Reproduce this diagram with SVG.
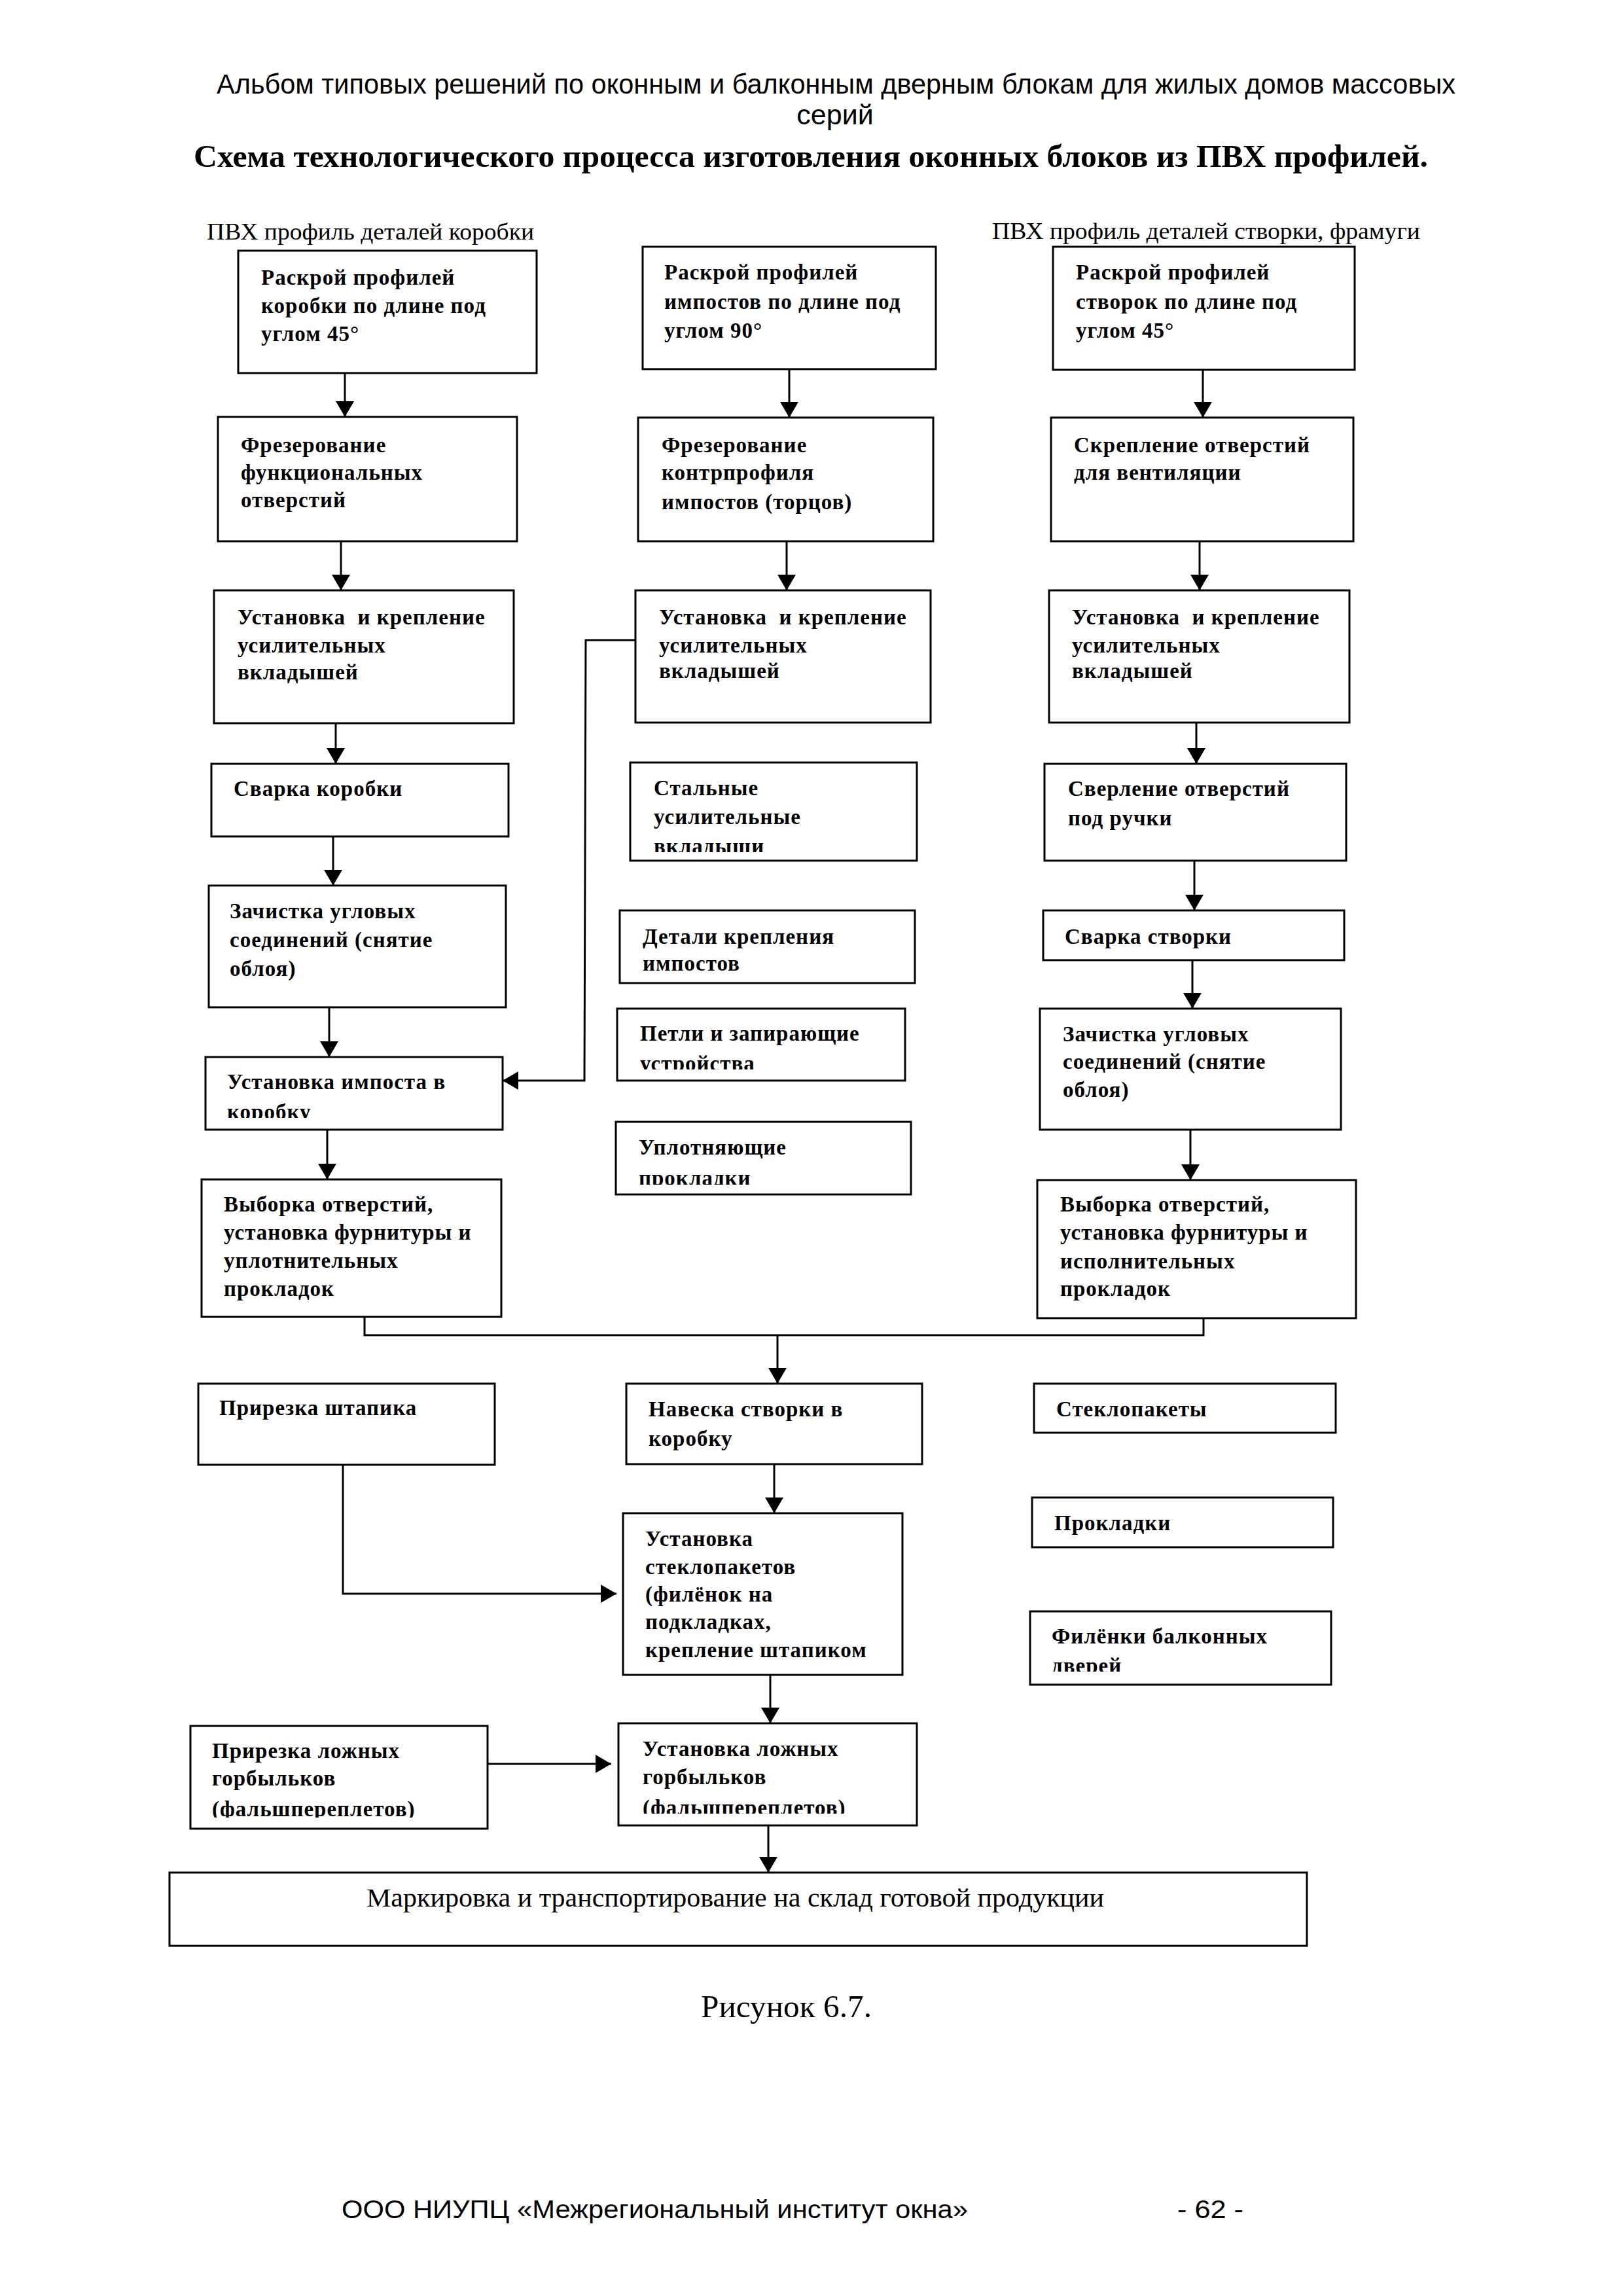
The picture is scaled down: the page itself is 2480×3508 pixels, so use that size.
<svg xmlns="http://www.w3.org/2000/svg" width="2480" height="3508" viewBox="0 0 2480 3508">
<style>
.box{fill:#fff;stroke:#000;stroke-width:3}
.t{font-family:"Liberation Serif","Times New Roman",serif;font-size:33px;font-weight:bold;letter-spacing:1px;fill:#000}
.hd{font-family:"Liberation Serif","Times New Roman",serif;font-size:35px;fill:#000}
.sans{font-family:"Liberation Sans",Arial,sans-serif;fill:#000}
.conn{fill:none;stroke:#000;stroke-width:3}
.arr{marker-end:url(#ah)}
</style>
<defs>
<marker id="ah" markerUnits="userSpaceOnUse" markerWidth="24" markerHeight="28" refX="24" refY="14" orient="auto" viewBox="0 0 24 28"><path d="M0,0 L24,14 L0,28 z" fill="#000"/></marker>
<clipPath id="cM4"><rect x="963" y="1165" width="438" height="137"/></clipPath>
<clipPath id="cL6"><rect x="314" y="1615" width="454" height="93"/></clipPath>
<clipPath id="cM6"><rect x="943" y="1541" width="440" height="93"/></clipPath>
<clipPath id="cM7"><rect x="941" y="1714" width="451" height="96"/></clipPath>
<clipPath id="cB6"><rect x="1574" y="2462" width="460" height="92"/></clipPath>
<clipPath id="cB7"><rect x="291" y="2637" width="454" height="140"/></clipPath>
<clipPath id="cB8"><rect x="945" y="2633" width="456" height="138"/></clipPath>
</defs>
<rect width="2480" height="3508" fill="#fff"/>

<g id="header">
<text class="sans" x="331" y="143" font-size="43" textLength="1893" lengthAdjust="spacingAndGlyphs">Альбом типовых решений по оконным и балконным дверным блокам для жилых домов массовых</text>
<text class="sans" x="1276" y="190" font-size="43" text-anchor="middle">серий</text>
<text x="296" y="255" font-family="'Liberation Serif','Times New Roman',serif" font-size="48" font-weight="bold" textLength="1886" lengthAdjust="spacingAndGlyphs">Схема технологического процесса изготовления оконных блоков из ПВХ профилей.</text>
<text class="hd" x="316" y="366" textLength="500" lengthAdjust="spacingAndGlyphs">ПВХ профиль деталей коробки</text>
<text class="hd" x="1516" y="365" textLength="654" lengthAdjust="spacingAndGlyphs">ПВХ профиль деталей створки, фрамуги</text>
</g>

<g id="connectors">
<line class="conn arr" x1="527" y1="570" x2="527" y2="637"/>
<line class="conn arr" x1="521" y1="827" x2="521" y2="902"/>
<line class="conn arr" x1="513" y1="1105" x2="513" y2="1167"/>
<line class="conn arr" x1="509" y1="1278" x2="509" y2="1353"/>
<line class="conn arr" x1="503" y1="1539" x2="503" y2="1615"/>
<line class="conn arr" x1="500" y1="1726" x2="500" y2="1802"/>
<line class="conn arr" x1="1206" y1="564" x2="1206" y2="638"/>
<line class="conn arr" x1="1202" y1="827" x2="1202" y2="902"/>
<path class="conn arr" d="M971,978 L895,978 L893,1651 L768,1651"/>
<line class="conn arr" x1="1838" y1="565" x2="1838" y2="638"/>
<line class="conn arr" x1="1833" y1="827" x2="1833" y2="902"/>
<line class="conn arr" x1="1828" y1="1104" x2="1828" y2="1167"/>
<line class="conn arr" x1="1825" y1="1315" x2="1825" y2="1391"/>
<line class="conn arr" x1="1822" y1="1467" x2="1822" y2="1541"/>
<line class="conn arr" x1="1819" y1="1726" x2="1819" y2="1803"/>
<path class="conn" d="M557,2012 L557,2040 L1839,2040 L1839,2014"/>
<line class="conn arr" x1="1188" y1="2040" x2="1188" y2="2114"/>
<line class="conn arr" x1="1183" y1="2237" x2="1183" y2="2312"/>
<path class="conn arr" d="M524,2238 L524,2435 L942,2435"/>
<line class="conn arr" x1="1177" y1="2559" x2="1177" y2="2633"/>
<line class="conn arr" x1="745" y1="2695" x2="934" y2="2695"/>
<line class="conn arr" x1="1174" y1="2789" x2="1174" y2="2861"/>
</g>

<g id="n-L1"><rect class="box" x="364" y="383" width="456" height="187"/>
<text class="t"><tspan x="399" y="435">Раскрой профилей</tspan><tspan x="399" y="478">коробки по длине под</tspan><tspan x="399" y="521">углом 45°</tspan></text></g>
<g id="n-M1"><rect class="box" x="982" y="377" width="448" height="187"/>
<text class="t"><tspan x="1015" y="427">Раскрой профилей</tspan><tspan x="1015" y="472">импостов по длине под</tspan><tspan x="1015" y="516">углом 90°</tspan></text></g>
<g id="n-R1"><rect class="box" x="1609" y="377" width="461" height="188"/>
<text class="t"><tspan x="1644" y="427">Раскрой профилей</tspan><tspan x="1644" y="472">створок по длине под</tspan><tspan x="1644" y="516">углом 45°</tspan></text></g>

<g id="n-L2"><rect class="box" x="333" y="637" width="457" height="190"/>
<text class="t"><tspan x="368" y="691">Фрезерование</tspan><tspan x="368" y="733">функциональных</tspan><tspan x="368" y="775">отверстий</tspan></text></g>
<g id="n-M2"><rect class="box" x="975" y="638" width="451" height="189"/>
<text class="t"><tspan x="1011" y="691">Фрезерование</tspan><tspan x="1011" y="733">контрпрофиля</tspan><tspan x="1011" y="778">импостов (торцов)</tspan></text></g>
<g id="n-R2"><rect class="box" x="1606" y="638" width="462" height="189"/>
<text class="t"><tspan x="1641" y="691">Скрепление отверстий</tspan><tspan x="1641" y="733">для вентиляции</tspan></text></g>

<g id="n-L3"><rect class="box" x="327" y="902" width="458" height="203"/>
<text class="t"><tspan x="363" y="954">Установка &#160;и крепление</tspan><tspan x="363" y="997">усилительных</tspan><tspan x="363" y="1038">вкладышей</tspan></text></g>
<g id="n-M3"><rect class="box" x="971" y="902" width="451" height="202"/>
<text class="t"><tspan x="1007" y="954">Установка &#160;и крепление</tspan><tspan x="1007" y="997">усилительных</tspan><tspan x="1007" y="1036">вкладышей</tspan></text></g>
<g id="n-R3"><rect class="box" x="1603" y="902" width="459" height="202"/>
<text class="t"><tspan x="1638" y="954">Установка &#160;и крепление</tspan><tspan x="1638" y="997">усилительных</tspan><tspan x="1638" y="1036">вкладышей</tspan></text></g>

<g id="n-L4"><rect class="box" x="323" y="1167" width="454" height="111"/>
<text class="t" x="357" y="1216">Сварка коробки</text></g>
<g id="n-M4"><rect class="box" x="963" y="1165" width="438" height="150"/>
<text class="t" clip-path="url(#cM4)"><tspan x="999" y="1215">Стальные</tspan><tspan x="999" y="1259">усилительные</tspan><tspan x="999" y="1304">вкладыши</tspan></text></g>
<g id="n-R4"><rect class="box" x="1596" y="1167" width="461" height="148"/>
<text class="t"><tspan x="1632" y="1216">Сверление отверстий</tspan><tspan x="1632" y="1261">под ручки</tspan></text></g>

<g id="n-L5"><rect class="box" x="319" y="1353" width="454" height="186"/>
<text class="t"><tspan x="351" y="1403">Зачистка угловых</tspan><tspan x="351" y="1447">соединений (снятие</tspan><tspan x="351" y="1491">облоя)</tspan></text></g>
<g id="n-M5"><rect class="box" x="947" y="1391" width="451" height="111"/>
<text class="t"><tspan x="982" y="1442">Детали крепления</tspan><tspan x="982" y="1483">импостов</tspan></text></g>
<g id="n-R5"><rect class="box" x="1594" y="1391" width="460" height="76"/>
<text class="t" x="1627" y="1442">Сварка створки</text></g>

<g id="n-L6"><rect class="box" x="314" y="1615" width="454" height="111"/>
<text class="t" clip-path="url(#cL6)"><tspan x="347" y="1664">Установка импоста в</tspan><tspan x="347" y="1710">коробку</tspan></text></g>
<g id="n-M6"><rect class="box" x="943" y="1541" width="440" height="110"/>
<text class="t" clip-path="url(#cM6)"><tspan x="978" y="1590">Петли и запирающие</tspan><tspan x="978" y="1636">устройства</tspan></text></g>
<g id="n-R6"><rect class="box" x="1589" y="1541" width="460" height="185"/>
<text class="t"><tspan x="1624" y="1591">Зачистка угловых</tspan><tspan x="1624" y="1633">соединений (снятие</tspan><tspan x="1624" y="1676">облоя)</tspan></text></g>

<g id="n-M7"><rect class="box" x="941" y="1714" width="451" height="111"/>
<text class="t" clip-path="url(#cM7)"><tspan x="976" y="1764">Уплотняющие</tspan><tspan x="976" y="1811">прокладки</tspan></text></g>
<g id="n-L7"><rect class="box" x="308" y="1802" width="458" height="210"/>
<text class="t"><tspan x="342" y="1851">Выборка отверстий,</tspan><tspan x="342" y="1894">установка фурнитуры и</tspan><tspan x="342" y="1937">уплотнительных</tspan><tspan x="342" y="1980">прокладок</tspan></text></g>
<g id="n-R7"><rect class="box" x="1585" y="1803" width="487" height="211"/>
<text class="t"><tspan x="1620" y="1851">Выборка отверстий,</tspan><tspan x="1620" y="1894">установка фурнитуры и</tspan><tspan x="1620" y="1938">исполнительных</tspan><tspan x="1620" y="1980">прокладок</tspan></text></g>

<g id="n-B1"><rect class="box" x="303" y="2114" width="453" height="124"/>
<text class="t" x="335" y="2162">Прирезка штапика</text></g>
<g id="n-B2"><rect class="box" x="957" y="2114" width="452" height="123"/>
<text class="t"><tspan x="991" y="2164">Навеска створки в</tspan><tspan x="991" y="2209">коробку</tspan></text></g>
<g id="n-B3"><rect class="box" x="1580" y="2114" width="461" height="75"/>
<text class="t" x="1614" y="2164">Стеклопакеты</text></g>
<g id="n-B4"><rect class="box" x="1577" y="2288" width="460" height="76"/>
<text class="t" x="1611" y="2338">Прокладки</text></g>
<g id="n-B5"><rect class="box" x="952" y="2312" width="427" height="247"/>
<text class="t"><tspan x="986" y="2362">Установка</tspan><tspan x="986" y="2405">стеклопакетов</tspan><tspan x="986" y="2447">(филёнок на</tspan><tspan x="986" y="2489">подкладках,</tspan><tspan x="986" y="2532">крепление штапиком</tspan></text></g>
<g id="n-B6"><rect class="box" x="1574" y="2462" width="460" height="112"/>
<text class="t" clip-path="url(#cB6)"><tspan x="1607" y="2511">Филёнки балконных</tspan><tspan x="1607" y="2556">дверей</tspan></text></g>
<g id="n-B7"><rect class="box" x="291" y="2637" width="454" height="157"/>
<text class="t" clip-path="url(#cB7)"><tspan x="324" y="2686">Прирезка ложных</tspan><tspan x="324" y="2728">горбыльков</tspan><tspan x="324" y="2775">(фальшпереплетов)</tspan></text></g>
<g id="n-B8"><rect class="box" x="945" y="2633" width="456" height="156"/>
<text class="t" clip-path="url(#cB8)"><tspan x="982" y="2683">Установка ложных</tspan><tspan x="982" y="2726">горбыльков</tspan><tspan x="982" y="2773">(фальшпереплетов)</tspan></text></g>
<g id="n-B9"><rect class="box" x="259" y="2861" width="1738" height="112"/>
<text x="560" y="2913" font-family="'Liberation Serif','Times New Roman',serif" font-size="40" textLength="1127" lengthAdjust="spacingAndGlyphs">Маркировка и транспортирование на склад готовой продукции</text></g>

<g id="footer">
<text x="1071" y="3082" font-family="'Liberation Serif','Times New Roman',serif" font-size="48" textLength="261" lengthAdjust="spacingAndGlyphs">Рисунок 6.7.</text>
<text class="sans" x="522" y="3389" font-size="38" textLength="957" lengthAdjust="spacingAndGlyphs">ООО НИУПЦ «Межрегиональный институт окна»</text>
<text class="sans" x="1799" y="3389" font-size="38" textLength="101" lengthAdjust="spacingAndGlyphs">- 62 -</text>
</g>
</svg>
